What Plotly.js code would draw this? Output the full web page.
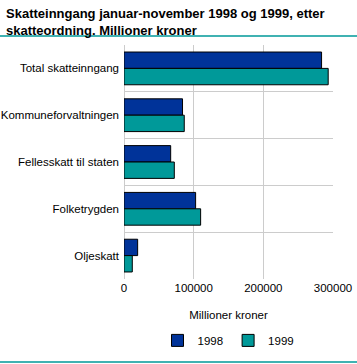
<!DOCTYPE html>
<html>
<head>
<meta charset="utf-8">
<script src="https://cdn.plot.ly/plotly-3.0.1.min.js"></script>
<style>
html,body{margin:0;padding:0;background:#fff;}
#chart{width:357px;height:364px;}
</style>
</head>
<body>
<div id="chart"></div>
<script>
const categories = ["Total skatteinngang", "Kommuneforvaltningen", "Fellesskatt til staten", "Folketrygden", "Oljeskatt"];
const values1998 = [283600, 84000, 67000, 102800, 19600];
const values1999 = [293100, 86500, 72200, 110000, 11900];
const seriesNames = ["1998", "1999"];
const xTicks = [0, 100000, 200000, 300000];

const colors = ["#003399", "#009999"];
const traces = [values1998, values1999].map((v, i) => ({
  type: "bar",
  orientation: "h",
  name: seriesNames[i],
  y: categories,
  x: v,
  marker: {color: colors[i], line: {color: "#000000", width: 1}},
  hoverinfo: "x+name"
}));

const layout = {
  width: 357, height: 364,
  margin: {l: 124, r: 24, t: 45, b: 85},
  paper_bgcolor: "#ffffff",
  plot_bgcolor: "#ffffff",
  font: {family: "Liberation Sans, Arial, sans-serif", size: 11.5, color: "#000"},
  annotations: [{
    text: "<b>Skatteinngang januar-november 1998 og 1999, etter<br>skatteordning. Millioner kroner</b>",
    font: {family: "Liberation Sans, Arial, sans-serif", size: 13, color: "#000"},
    xref: "paper", yref: "paper",
    x: -120/209, xanchor: "left",
    y: 1 + 41/234, yanchor: "top",
    align: "left", showarrow: false
  }],
  barmode: "group",
  bargap: 0.3,
  bargroupgap: 0,
  xaxis: {
    range: [0, 300000],
    tickvals: xTicks,
    ticktext: xTicks.map(String),
    showgrid: true, gridcolor: "#cccccc", gridwidth: 1,
    zeroline: true, zerolinecolor: "#cccccc", zerolinewidth: 1,
    showline: false,
    ticks: "",
    title: {text: "Millioner kroner", font: {size: 11.5}, standoff: 18},
    fixedrange: true
  },
  yaxis: {
    type: "category",
    autorange: "reversed",
    tickson: "boundaries",
    showgrid: true, gridcolor: "#cccccc", gridwidth: 1,
    ticks: "",
    ticklabelstandoff: 4,
    showline: false,
    fixedrange: true
  },
  legend: {
    orientation: "h",
    x: 0.5, xanchor: "center", xref: "paper",
    y: 0.025, yanchor: "bottom", yref: "container",
    font: {size: 11.5},
    itemwidth: 30,
    traceorder: "normal"
  },
  shapes: [
    {type: "line", xref: "paper", yref: "paper", x0: -124/209, x1: 1 + 24/209, y0: 1 + 9/234, y1: 1 + 9/234, line: {color: "#009999", width: 1.5}},
    {type: "line", xref: "paper", yref: "paper", x0: -124/209, x1: 1 + 24/209, y0: -83/234, y1: -83/234, line: {color: "#009999", width: 1.5}}
  ],
  showlegend: true
};

Plotly.newPlot("chart", traces, layout, {displayModeBar: false, staticPlot: true});
</script>
</body>
</html>
